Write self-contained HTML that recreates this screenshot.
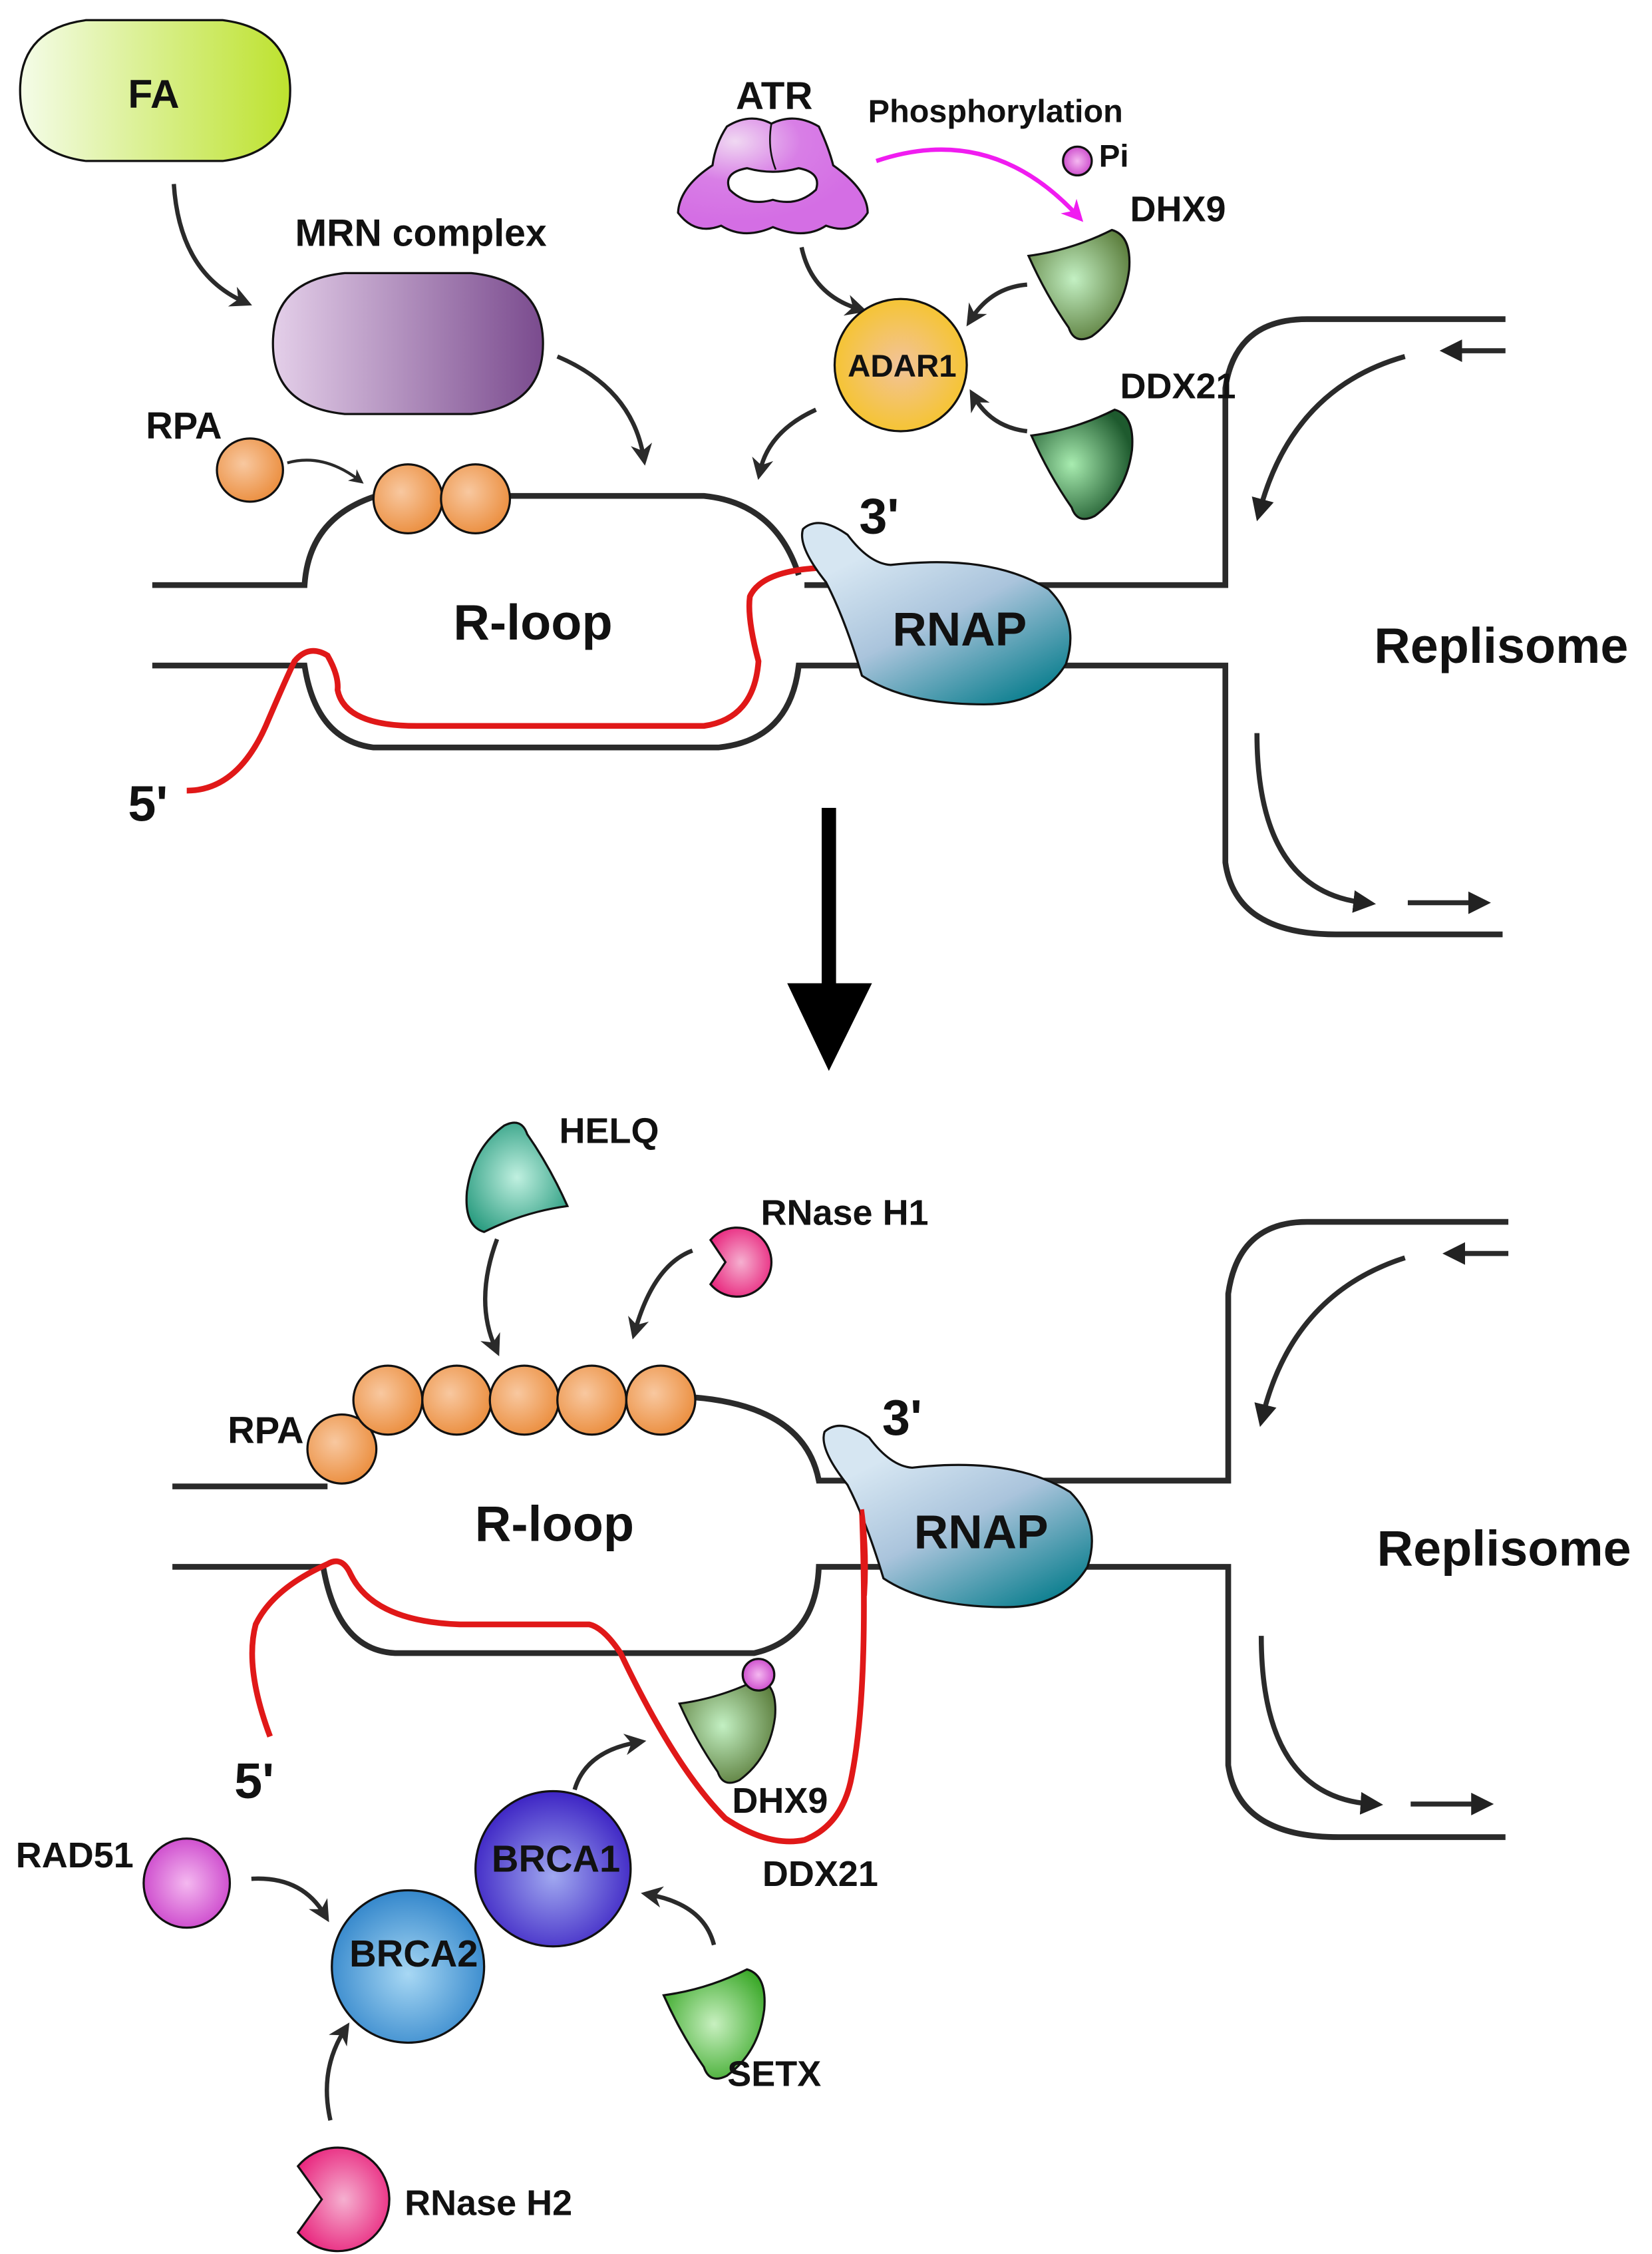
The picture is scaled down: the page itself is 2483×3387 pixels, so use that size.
<!DOCTYPE html>
<html><head><meta charset="utf-8"><style>html,body{margin:0;padding:0;background:#fff}svg{display:block}text{font-family:"Liberation Sans Narrow","Liberation Sans",sans-serif;font-weight:bold;fill:#111}</style></head>
<body>
<svg width="2483" height="3387" viewBox="0 0 1150 1568" preserveAspectRatio="none" xmlns="http://www.w3.org/2000/svg">
<defs>
<linearGradient id="fa" x1="0" x2="1"><stop offset="0" stop-color="#f4fce8"/><stop offset="1" stop-color="#bde22e"/></linearGradient>
<linearGradient id="mrn" x1="0" x2="1"><stop offset="0" stop-color="#e4cfe9"/><stop offset="1" stop-color="#7a4b8e"/></linearGradient>
<radialGradient id="org" cx="0.4" cy="0.4" r="0.6"><stop offset="0" stop-color="#f8c8a0"/><stop offset="1" stop-color="#ec9245"/></radialGradient>
<radialGradient id="adar" cx="0.5" cy="0.5" r="0.6"><stop offset="0" stop-color="#f2c39a"/><stop offset="1" stop-color="#f6c420"/></radialGradient>
<radialGradient id="atr" cx="0.3" cy="0.2" r="0.7"><stop offset="0" stop-color="#f0d8f2"/><stop offset="0.5" stop-color="#d87ee6"/><stop offset="1" stop-color="#d46ee4"/></radialGradient>
<radialGradient id="g1" cx="0.45" cy="0.45" r="0.6"><stop offset="0" stop-color="#c3f0c3"/><stop offset="1" stop-color="#5d7f3e"/></radialGradient>
<radialGradient id="g2" cx="0.4" cy="0.5" r="0.6"><stop offset="0" stop-color="#a8ecb0"/><stop offset="1" stop-color="#1e5a2e"/></radialGradient>
<radialGradient id="helq" cx="0.5" cy="0.5" r="0.6"><stop offset="0" stop-color="#c0f0e0"/><stop offset="1" stop-color="#2a9c80"/></radialGradient>
<radialGradient id="setx" cx="0.5" cy="0.5" r="0.6"><stop offset="0" stop-color="#c8f0c0"/><stop offset="1" stop-color="#3aa828"/></radialGradient>
<linearGradient id="rnap" x1="0.2" y1="0.2" x2="0.8" y2="1"><stop offset="0" stop-color="#d6e6f2"/><stop offset="0.45" stop-color="#aac4dc"/><stop offset="1" stop-color="#0e8090"/></linearGradient>
<radialGradient id="pink" cx="0.5" cy="0.5" r="0.6"><stop offset="0" stop-color="#f5b0d0"/><stop offset="1" stop-color="#e8207a"/></radialGradient>
<radialGradient id="mag" cx="0.5" cy="0.5" r="0.6"><stop offset="0" stop-color="#f4b8f0"/><stop offset="1" stop-color="#c83cc8"/></radialGradient>
<radialGradient id="b1" cx="0.5" cy="0.55" r="0.6"><stop offset="0" stop-color="#a0a8f0"/><stop offset="1" stop-color="#3418c0"/></radialGradient>
<radialGradient id="b2" cx="0.5" cy="0.55" r="0.6"><stop offset="0" stop-color="#a8d8f4"/><stop offset="1" stop-color="#2a80c8"/></radialGradient>
<marker id="ah" viewBox="0 0 10 10" refX="6" refY="5" markerWidth="5" markerHeight="5" orient="auto"><path d="M0,0 L10,5 L0,10 L3,5 Z" fill="#2a2a2a"/></marker>
<marker id="ahm" viewBox="0 0 10 10" refX="6" refY="5" markerWidth="5" markerHeight="5" orient="auto"><path d="M0,0 L10,5 L0,10 L3,5 Z" fill="#f01cf0"/></marker>
<marker id="ahb" viewBox="0 0 10 10" refX="5" refY="5" markerWidth="4.5" markerHeight="4.5" orient="auto"><path d="M0,0 L10,5 L0,10 Z" fill="#222"/></marker>
<path id="cup" d="M0,18 Q30,14 58,0 Q72,4 70,28 Q66,58 44,74 Q32,80 28,68 Q12,45 0,18 Z" stroke="#111" stroke-width="1.5"/>
<path id="rnapS" d="M559,368 Q570,358 590,372 Q605,392 620,393 Q690,385 730,410 Q752,432 742,462 Q725,490 685,490 Q630,490 600,470 Q588,430 575,405 Q555,380 559,368 Z" fill="url(#rnap)" stroke="#111" stroke-width="1.5"/>
</defs>

<g fill="none" stroke="#2a2a2a" stroke-width="4">
<path d="M106,407 H212 Q215,360 262,345 H490 Q540,350 556,400"/>
<path d="M560,407 H853 V270 Q860,222 910,222 H1048"/>
<path d="M106,463 H212 Q220,515 260,520 H500 Q550,515 556,463 H853 V600 Q860,650 930,650 H1046"/>
<path d="M978,248 Q900,270 877,355" stroke-width="3.5" marker-end="url(#ahb)"/>
<path d="M1048,244 H1010" stroke-width="3.5" marker-end="url(#ahb)"/>
<path d="M875,510 Q875,620 950,628" stroke-width="3.5" marker-end="url(#ahb)"/>
<path d="M980,628 H1030" stroke-width="3.5" marker-end="url(#ahb)"/>
<path d="M120,1034 H228"/>
<path d="M482,972 Q560,978 570,1030 H855 V900 Q862,850 910,850 H1050"/>
<path d="M120,1090 H225 Q235,1148 275,1150 H525 Q568,1140 570,1090 H855 V1228 Q862,1278 932,1278 H1048"/>
<path d="M978,875 Q900,900 879,985" stroke-width="3.5" marker-end="url(#ahb)"/>
<path d="M1050,872 H1012" stroke-width="3.5" marker-end="url(#ahb)"/>
<path d="M878,1138 Q878,1250 955,1255" stroke-width="3.5" marker-end="url(#ahb)"/>
<path d="M982,1255 H1032" stroke-width="3.5" marker-end="url(#ahb)"/>
</g>

<path d="M130,550 Q165,550 185,505 Q200,470 205,460 Q215,448 228,456 Q236,470 235,480 Q240,505 290,505 H490 Q525,500 528,460 Q520,430 522,415 Q530,397 572,395" fill="none" stroke="#e01818" stroke-width="4"/>
<path d="M188,1208 Q170,1160 178,1130 Q190,1105 228,1088 Q238,1082 244,1095 Q260,1128 320,1130 H410 Q420,1132 432,1150 Q470,1230 505,1265 Q535,1285 560,1280 Q585,1270 592,1240 Q605,1180 600,1050" fill="none" stroke="#e01818" stroke-width="4"/>

<path d="M60,14 H155 Q202,20 202,63 Q202,106 155,112 H60 Q14,106 14,63 Q14,20 60,14 Z" fill="url(#fa)" stroke="#111" stroke-width="1.5"/>
<text x="107" y="75" font-size="28" text-anchor="middle">FA</text>
<path d="M240,190 H328 Q378,195 378,239 Q378,283 328,288 H240 Q190,283 190,239 Q190,195 240,190 Z" fill="url(#mrn)" stroke="#111" stroke-width="1.5"/>
<text x="293" y="171" font-size="26.5" text-anchor="middle">MRN complex</text>

<g fill="none" stroke="#2a2a2a" stroke-width="3">
<path d="M121,128 Q125,190 170,210" marker-end="url(#ah)"/>
<path d="M388,248 Q440,270 448,318" marker-end="url(#ah)"/>
<path d="M200,322 Q225,315 250,334" stroke-width="2" marker-end="url(#ah)"/>
<path d="M558,172 Q565,205 598,215" marker-end="url(#ah)"/>
<path d="M715,198 Q690,200 676,222" marker-end="url(#ah)"/>
<path d="M715,300 Q690,297 678,276" marker-end="url(#ah)"/>
<path d="M568,285 Q535,300 529,328" marker-end="url(#ah)"/>
<path d="M346,862 Q330,905 345,938" marker-end="url(#ah)"/>
<path d="M482,870 Q455,880 442,926" marker-end="url(#ah)"/>
<path d="M400,1245 Q408,1218 444,1212" marker-end="url(#ah)"/>
<path d="M175,1307 Q210,1305 226,1332" marker-end="url(#ah)"/>
<path d="M497,1353 Q490,1325 452,1318" marker-end="url(#ah)"/>
<path d="M230,1475 Q222,1440 240,1412" marker-end="url(#ah)"/>
</g>
<path d="M610,112 Q690,85 750,150" fill="none" stroke="#f01cf0" stroke-width="3" marker-end="url(#ahm)"/>
<text x="693" y="85" font-size="22.5" text-anchor="middle">Phosphorylation</text>
<circle cx="750" cy="112" r="10" fill="url(#mag)" stroke="#111" stroke-width="1.5"/>
<text x="765" y="116" font-size="22">Pi</text>

<text x="128" y="305" font-size="26" text-anchor="middle">RPA</text>
<ellipse cx="174" cy="327" rx="23" ry="22" fill="url(#org)" stroke="#111" stroke-width="1.5"/>
<circle cx="284" cy="347" r="24" fill="url(#org)" stroke="#111" stroke-width="1.5"/>
<circle cx="331" cy="347" r="24" fill="url(#org)" stroke="#111" stroke-width="1.5"/>

<text x="539" y="76" font-size="27" text-anchor="middle">ATR</text>
<path d="M506,88 Q522,78 537,86 Q553,78 570,88 Q577,103 580,115 Q604,132 604,148 Q594,164 575,157 Q560,167 538,158 Q518,167 502,157 Q484,164 472,148 Q473,130 496,115 Q498,100 506,88 Z" fill="url(#atr)" stroke="#111" stroke-width="1.5"/>
<path d="M537,86 Q534,103 540,118" fill="none" stroke="#111" stroke-width="1.2"/>
<path d="M508,132 Q503,120 520,117 Q538,122 556,117 Q572,120 568,132 Q555,144 538,139 Q520,144 508,132 Z" fill="#fff" stroke="#111" stroke-width="1.5"/>

<circle cx="627" cy="254" r="46" fill="url(#adar)" stroke="#111" stroke-width="1.5"/>
<text x="628" y="262" font-size="22" text-anchor="middle">ADAR1</text>
<use href="#cup" transform="translate(716,160)" fill="url(#g1)"/>
<text x="820" y="154" font-size="25" text-anchor="middle">DHX9</text>
<use href="#cup" transform="translate(718,285)" fill="url(#g2)"/>
<text x="820" y="277" font-size="25" text-anchor="middle">DDX21</text>

<use href="#rnapS"/>
<text x="668" y="449" font-size="33" text-anchor="middle">RNAP</text>
<text x="612" y="371" font-size="35" text-anchor="middle">3'</text>
<text x="371" y="445" font-size="35" text-anchor="middle" fill="#333">R-loop</text>
<text x="103" y="571" font-size="35" text-anchor="middle">5'</text>
<text x="1045" y="461" font-size="35" text-anchor="middle" fill="#333">Replisome</text>

<rect x="572" y="562" width="10" height="128" fill="#000"/>
<path d="M548,684 H607 L577,745 Z" fill="#000"/>

<use href="#cup" transform="translate(395,857) rotate(180)" fill="url(#helq)"/>
<text x="424" y="795" font-size="25" text-anchor="middle">HELQ</text>
<path d="M494.6,862.6 A24,24 0 1 1 494.6,893.4 L505,878 Z" fill="url(#pink)" stroke="#111" stroke-width="1.5"/>
<text x="588" y="852" font-size="25" text-anchor="middle">RNase H1</text>

<text x="185" y="1004" font-size="26" text-anchor="middle">RPA</text>
<circle cx="238" cy="1008" r="24" fill="url(#org)" stroke="#111" stroke-width="1.5"/>
<circle cx="270" cy="974" r="24" fill="url(#org)" stroke="#111" stroke-width="1.5"/>
<circle cx="318" cy="974" r="24" fill="url(#org)" stroke="#111" stroke-width="1.5"/>
<circle cx="365" cy="974" r="24" fill="url(#org)" stroke="#111" stroke-width="1.5"/>
<circle cx="412" cy="974" r="24" fill="url(#org)" stroke="#111" stroke-width="1.5"/>
<circle cx="460" cy="974" r="24" fill="url(#org)" stroke="#111" stroke-width="1.5"/>

<g transform="translate(15,628)"><use href="#rnapS"/></g>
<path d="M600,1050 Q604,1080 602,1110" fill="none" stroke="#e01818" stroke-width="3"/>
<text x="683" y="1077" font-size="33" text-anchor="middle">RNAP</text>
<text x="628" y="998" font-size="35" text-anchor="middle">3'</text>
<text x="386" y="1072" font-size="35" text-anchor="middle" fill="#333">R-loop</text>
<text x="177" y="1251" font-size="35" text-anchor="middle">5'</text>
<text x="1047" y="1089" font-size="35" text-anchor="middle" fill="#333">Replisome</text>

<use href="#cup" transform="translate(473,1168) scale(0.95)" fill="url(#g1)"/>
<circle cx="528" cy="1165" r="11" fill="url(#mag)" stroke="#111" stroke-width="1.5"/>
<text x="543" y="1261" font-size="25" text-anchor="middle">DHX9</text>
<text x="571" y="1312" font-size="25" text-anchor="middle">DDX21</text>

<circle cx="385" cy="1300" r="54" fill="url(#b1)" stroke="#111" stroke-width="1.5"/>
<text x="387" y="1302" font-size="26" text-anchor="middle">BRCA1</text>
<circle cx="284" cy="1368" r="53" fill="url(#b2)" stroke="#111" stroke-width="1.5"/>
<text x="288" y="1368" font-size="26" text-anchor="middle">BRCA2</text>
<ellipse cx="130" cy="1310" rx="30" ry="31" fill="url(#mag)" stroke="#111" stroke-width="1.5"/>
<text x="52" y="1299" font-size="25" text-anchor="middle">RAD51</text>
<use href="#cup" transform="translate(462,1370)" fill="url(#setx)"/>
<text x="539" y="1451" font-size="25" text-anchor="middle">SETX</text>
<path d="M207.4,1506.9 A36,36 0 1 1 207.4,1553.1 L224,1530 Z" fill="url(#pink)" stroke="#111" stroke-width="1.5"/>
<text x="340" y="1541" font-size="25" text-anchor="middle">RNase H2</text>
</svg>
</body></html>
